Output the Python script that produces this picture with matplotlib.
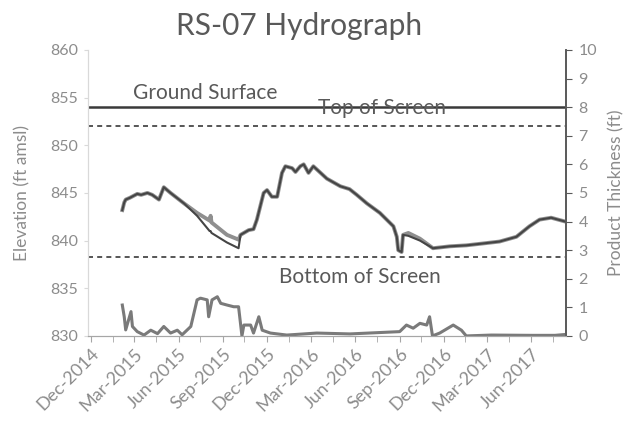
import numpy as np
import pandas as pd
import matplotlib
matplotlib.use("Agg")
import matplotlib.pyplot as plt
import matplotlib.dates as mdates

# groundwater / product elevation (ft amsl)
elev_dates = pd.to_datetime([
    "2015-02-04", "2015-02-08", "2015-02-11", "2015-02-20", "2015-03-07", "2015-03-15",
    "2015-03-28", "2015-04-07", "2015-04-21", "2015-05-01", "2015-05-15", "2015-06-12",
    "2015-07-09", "2015-08-04", "2015-08-06", "2015-08-08", "2015-09-09", "2015-10-03",
    "2015-10-07", "2015-10-24", "2015-11-03", "2015-11-10", "2015-11-24", "2015-12-01",
    "2015-12-11", "2015-12-22", "2016-01-01", "2016-01-08", "2016-01-22", "2016-01-29",
    "2016-02-08", "2016-02-15", "2016-02-25", "2016-03-06", "2016-04-03", "2016-05-01",
    "2016-05-20", "2016-06-04", "2016-06-25", "2016-07-22", "2016-08-19", "2016-08-26",
    "2016-08-29", "2016-09-05", "2016-09-08", "2016-09-19", "2016-10-13", "2016-11-09",
    "2016-12-14", "2017-01-17", "2017-02-21", "2017-03-27", "2017-05-01", "2017-05-28",
    "2017-06-18", "2017-07-12", "2017-08-10",
])
elev_product = [
    843.2, 844.0, 844.3, 844.5, 844.9, 844.8,
    845.0, 844.8, 844.3, 845.6, 845.0, 843.9,
    842.9, 842.1, 842.6, 841.9, 840.6, 840.1,
    840.6, 841.1, 841.2, 842.2, 845.0, 845.3,
    844.6, 844.6, 847.1, 847.8, 847.6, 847.2,
    847.8, 848.0, 847.1, 847.8, 846.5, 845.7,
    845.4, 844.8, 843.9, 842.9, 841.5, 840.4,
    839.0, 838.8, 840.6, 840.8, 840.2, 839.2,
    839.4, 839.5, 839.7, 839.9, 840.4, 841.5,
    842.2, 842.4, 842.0,
]
elev_water = [
    843.2, 844.0, 844.3, 844.5, 844.9, 844.8,
    845.0, 844.8, 844.3, 845.6, 845.0, 843.9,
    842.6, 841.0, 841.0, 840.8, 839.8, 839.2,
    840.6, 841.1, 841.2, 842.2, 845.0, 845.3,
    844.6, 844.6, 847.1, 847.8, 847.6, 847.2,
    847.8, 848.0, 847.1, 847.8, 846.5, 845.7,
    845.4, 844.8, 843.9, 842.9, 841.5, 840.4,
    839.0, 838.8, 840.6, 840.5, 840.0, 839.2,
    839.4, 839.5, 839.7, 839.9, 840.4, 841.5,
    842.2, 842.4, 842.0,
]

# product thickness (ft)
thick_dates = pd.to_datetime([
    "2015-02-04", "2015-02-08", "2015-02-11", "2015-02-22", "2015-02-25", "2015-03-07",
    "2015-03-21", "2015-04-04", "2015-04-18", "2015-05-01", "2015-05-15", "2015-05-29",
    "2015-06-08", "2015-06-26", "2015-07-09", "2015-07-16", "2015-07-30", "2015-08-02",
    "2015-08-09", "2015-08-20", "2015-08-27", "2015-09-09", "2015-09-23", "2015-10-03",
    "2015-10-10", "2015-10-14", "2015-10-28", "2015-11-03", "2015-11-14", "2015-11-21",
    "2015-12-08", "2016-01-11", "2016-03-13", "2016-05-21", "2016-09-01", "2016-09-15",
    "2016-09-29", "2016-10-13", "2016-10-27", "2016-11-02", "2016-11-08", "2016-11-23",
    "2016-12-21", "2017-01-07", "2017-01-17", "2017-03-10", "2017-06-01", "2017-07-20",
    "2017-08-10",
])
thickness = [
    1.08, 0.67, 0.21, 0.85, 0.33, 0.15,
    0.03, 0.20, 0.08, 0.33, 0.10, 0.20,
    0.04, 0.33, 1.26, 1.32, 1.26, 0.67,
    1.26, 1.37, 1.14, 1.08, 1.02, 1.02,
    0.00, 0.38, 0.38, 0.10, 0.67, 0.20,
    0.10, 0.03, 0.10, 0.07, 0.15, 0.38,
    0.27, 0.44, 0.38, 0.67, 0.00, 0.10,
    0.38, 0.20, 0.00, 0.03, 0.02, 0.02,
    0.05,
]

ground_surface = 854.0
top_of_screen = 852.0
bottom_of_screen = 838.3

plt.rcParams["font.family"] = ["Lato", "DejaVu Sans"]
tick_gray = "#8c8c8c"
text_gray = "#595959"

fig = plt.figure(figsize=(6.29, 4.42), dpi=100)
ax = fig.add_axes([0.140, 0.240, 0.760, 0.647])
ax2 = ax.twinx()

ax.plot(elev_dates, elev_product, color="#8f8f8f", lw=2.8, zorder=3)
ax.plot(elev_dates, elev_water, color="#454545", lw=1.5, zorder=4)
ax2.plot(thick_dates, thickness, color="#7a7a7a", lw=2.2)

ax.axhline(ground_surface, color="#3a3a3a", lw=1.8, zorder=2)
ax.axhline(top_of_screen, color="#3a3a3a", lw=1.2, ls=(0, (3, 2.5)), zorder=2)
ax.axhline(bottom_of_screen, color="#3a3a3a", lw=1.2, ls=(0, (3, 2.5)), zorder=2)

ax.text(pd.Timestamp("2015-02-27"), 855.5, "Ground Surface", fontsize=15,
        color=text_gray, ha="left", va="center")
ax.text(pd.Timestamp("2016-07-26"), 853.9, "Top of Screen", fontsize=15,
        color=text_gray, ha="center", va="center")
ax.text(pd.Timestamp("2016-06-11"), 836.2, "Bottom of Screen", fontsize=15,
        color=text_gray, ha="center", va="center")

ax.set_xlim(pd.Timestamp("2014-11-25"), pd.Timestamp("2017-08-12"))
ax.set_ylim(830, 860)
ax.set_yticks(np.arange(830, 861, 5))
ax2.set_ylim(0, 10)
ax2.set_yticks(np.arange(0, 11, 1))

ax.xaxis.set_major_locator(mdates.MonthLocator(bymonth=(3, 6, 9, 12)))
ax.xaxis.set_minor_locator(mdates.MonthLocator(bymonth=(1, 4, 7, 10), bymonthday=15))
ax.xaxis.set_major_formatter(mdates.DateFormatter("%b-%Y"))
for lbl in ax.get_xticklabels():
    lbl.set_rotation(45)
    lbl.set_ha("right")
    lbl.set_rotation_mode("anchor")

for a in (ax, ax2):
    a.spines["top"].set_visible(False)
    a.spines["left"].set_color("#d9d9d9")
    a.spines["right"].set_color("#595959")
    a.spines["bottom"].set_color("#a6a6a6")
    a.spines["right"].set_linewidth(1.2)

ax.tick_params(axis="x", which="both", direction="out", length=4, color="#a6a6a6",
               labelsize=13, labelcolor=tick_gray, pad=3)
ax.tick_params(axis="y", direction="out", length=3, color="#d9d9d9",
               labelsize=11.5, labelcolor=tick_gray, pad=4)
ax2.tick_params(axis="y", direction="out", length=4, color="#595959",
                labelsize=11.5, labelcolor=tick_gray, pad=5)

ax.set_ylabel("Elevation (ft amsl)", fontsize=12.5, color=tick_gray, labelpad=14)
ax2.set_ylabel("Product Thickness (ft)", fontsize=12.5, color=tick_gray, labelpad=8)

fig.suptitle("RS-07 Hydrograph", x=0.475, y=0.972, fontsize=21.5, color=text_gray)

fig.savefig("out.png", dpi=100)
